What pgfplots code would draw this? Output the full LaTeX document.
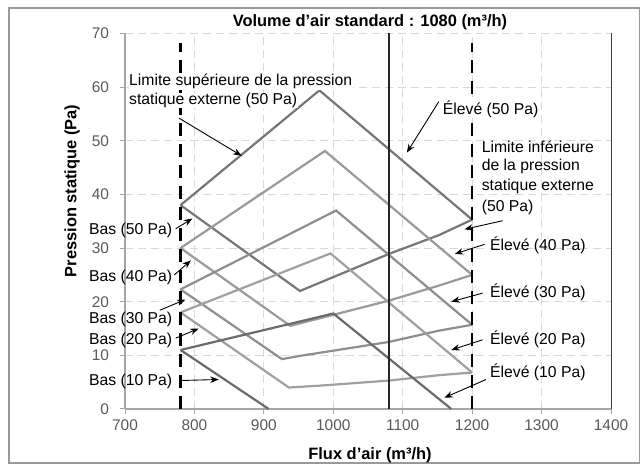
\documentclass[border=0pt]{standalone}
\usepackage{pgfplots}
\pgfplotsset{compat=1.18}
\usepackage{fontspec}
\setmainfont{Liberation Sans}
\usetikzlibrary{arrows.meta}

\definecolor{cfifty}{HTML}{767676}
\definecolor{cforty}{HTML}{9A9A9A}
\definecolor{cthirty}{HTML}{8E8E8E}
\definecolor{ctwenty}{HTML}{A0A0A0}
\definecolor{cten}{HTML}{6B6B6B}
\definecolor{ticktext}{HTML}{595959}

\begin{document}
\begin{tikzpicture}[x=1bp,y=1bp]
\useasboundingbox (0,0) rectangle (641,464);
\draw[gray!80, line width=1.2bp] (9,1) rectangle (639.5,456);

% title and axis labels
\node[font=\fontsize{16.5}{19}\selectfont\bfseries] at (370,442) {Volume d'air standard : 1080 (m³/h)};
\node[font=\fontsize{16.5}{19}\selectfont\bfseries] at (370,9) {Flux d'air (m³/h)};
\node[font=\fontsize{16.5}{19}\selectfont\bfseries, rotate=90] at (72,273) {Pression statique (Pa)};

\begin{axis}[
    at={(125bp,55bp)}, anchor=south west,
    scale only axis, width=486bp, height=375.5bp,
    xmin=700, xmax=1400, ymin=0, ymax=70,
    xtick={700,800,...,1400}, ytick={0,10,...,70},
    axis x line*=bottom, axis y line*=left,
    axis line style={draw=gray!70, line width=1.2bp, -},
    tick style={draw=gray!70, line width=1bp},
    tick align=outside, major tick length=5.5bp,
    grid=major,
    major grid style={draw=gray!30, line width=1bp, dash pattern=on 8bp off 5bp},
    ticklabel style={font=\fontsize{15.5}{17}\selectfont, text=ticktext},
    yticklabel style={xshift=-7bp},
    xticklabel style={yshift=-2bp},
    /pgf/number format/assume math mode=true,
    /pgf/number format/1000 sep={},
    clip=false,
    every axis plot/.append style={line width=2.2bp, no markers},
]
% 50 Pa
\addplot[cfifty] coordinates {(780,38) (980,59.4) (1200,35.3)};
\addplot[cfifty] coordinates {(780,38) (952,22) (1080,28.9) (1152,32.4) (1200,35.3)};
% 40 Pa
\addplot[cforty] coordinates {(780,30) (988,48.1) (1200,25)};
\addplot[cforty] coordinates {(780,30) (938,15.5) (1080,20.2) (1152,23) (1200,25)};
% 30 Pa
\addplot[cthirty] coordinates {(780,22.3) (1004,37) (1200,15.7)};
\addplot[cthirty] coordinates {(780,22.3) (926,9.3) (952,9.9) (1080,12.5) (1152,14.6) (1200,15.7)};
% 20 Pa
\addplot[ctwenty] coordinates {(780,18) (996,29) (1200,6.8)};
\addplot[ctwenty] coordinates {(780,18) (936,4) (986,4.4) (1080,5.3) (1152,6.3) (1200,6.8)};
% 10 Pa
\addplot[cten] coordinates {(780,11) (1000,17.8) (1170,0)};
\addplot[cten] coordinates {(780,11) (907,0)};

% limits and standard volume
\addplot[black, line width=2.6bp, dash pattern=on 13bp off 8bp] coordinates {(780,0) (780,68.2)};
\addplot[black, line width=2.6bp, dash pattern=on 13bp off 8bp] coordinates {(1200,0) (1200,68.2)};
\addplot[black!85, line width=2.6bp] coordinates {(1080,0) (1080,70)};

\draw[black!75, line width=1bp] (axis cs:1400,0) -- (axis cs:1400,70);

% annotations
\tikzset{lbl/.style={font=\fontsize{15.8}{18}\selectfont, inner sep=0.5bp},
         wlbl/.style={lbl, fill=white},
         arr/.style={-{Stealth[length=8.5bp,width=6.5bp]}, line width=0.9bp}}
\node[wlbl, anchor=west] at (axis cs:705,61.0) {Limite supérieure de la pression};
\node[wlbl, anchor=west] at (axis cs:705,57.5) {statique externe (50 Pa)};
\draw[arr] (axis cs:778,54.2) -- (axis cs:868,47.2);
\node[wlbl, anchor=west] at (axis cs:1157,55.9) {Élevé (50 Pa)};
\draw[arr] (axis cs:1152,57.3) -- (axis cs:1106,47.8);
\node[lbl, anchor=west] at (axis cs:1213,48.9) {Limite inférieure};
\node[lbl, anchor=west] at (axis cs:1213,45.2) {de la pression};
\node[lbl, anchor=west] at (axis cs:1213,41.4) {statique externe};
\node[lbl, anchor=west] at (axis cs:1213,37.6) {(50 Pa)};
\draw[arr] (axis cs:1244,35.1) -- (axis cs:1189,33.5);
\node[lbl, anchor=west] at (axis cs:1225,30.5) {Élevé (40 Pa)};
\draw[arr] (axis cs:1218,30.7) -- (axis cs:1175,28.9);
\node[lbl, anchor=west] at (axis cs:1225,21.75) {Élevé (30 Pa)};
\draw[arr] (axis cs:1215,21.6) -- (axis cs:1170,20);
\node[lbl, anchor=west] at (axis cs:1225,13) {Élevé (20 Pa)};
\draw[arr] (axis cs:1215,12.9) -- (axis cs:1170,11);
\node[lbl, anchor=west] at (axis cs:1225,6.75) {Élevé (10 Pa)};
\draw[arr] (axis cs:1220,5.5) -- (axis cs:1160,2.1);

\node[lbl, anchor=east] at (axis cs:769,33.3) {Bas (50 Pa)};
\draw[arr] (axis cs:773,33.6) -- (axis cs:797,35.5);
\node[lbl, anchor=east] at (axis cs:769,24.6) {Bas (40 Pa)};
\draw[arr] (axis cs:771,25) -- (axis cs:795,27.7);
\node[lbl, anchor=east] at (axis cs:769,16.75) {Bas (30 Pa)};
\draw[arr] (axis cs:750,18.4) -- (axis cs:787,20.4);
\node[lbl, anchor=east] at (axis cs:769,12.8) {Bas (20 Pa)};
\draw[arr] (axis cs:773,13.2) -- (axis cs:806,15);
\node[lbl, anchor=east] at (axis cs:769,5.2) {Bas (10 Pa)};
\draw[arr] (axis cs:778,5.3) -- (axis cs:835,5.5);
\end{axis}
\end{tikzpicture}
\end{document}
